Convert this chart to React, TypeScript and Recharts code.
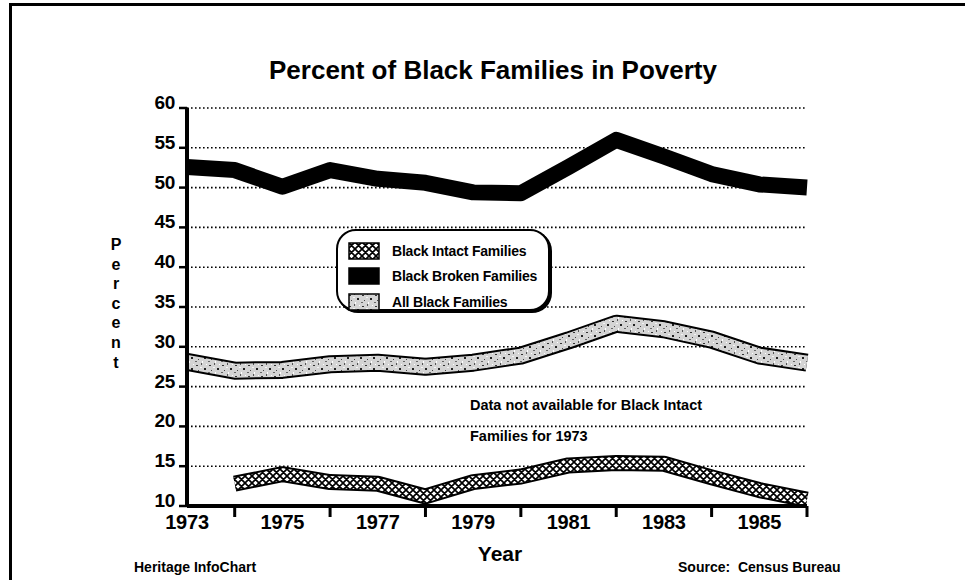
import React from 'react';
import { LineChart, Line, XAxis, YAxis, CartesianGrid, Legend } from 'recharts';

// data (percent of families in poverty)
const years = [1973, 1974, 1975, 1976, 1977, 1978, 1979, 1980, 1981, 1982, 1983, 1984, 1985, 1986];
const intactFamilies = [null, 12.8, 14.0, 13.0, 12.8, 11.2, 13.0, 13.7, 15.1, 15.4, 15.3, 13.6, 12.0, 10.8];
const brokenFamilies = [52.6, 52.2, 50.1, 52.2, 51.1, 50.6, 49.4, 49.3, 52.6, 56.0, 53.9, 51.7, 50.4, 50.0];
const allFamilies = [28.1, 27.0, 27.1, 27.8, 28.0, 27.5, 28.0, 28.9, 30.8, 32.9, 32.2, 30.9, 28.9, 28.0];
const yTicks = [10, 15, 20, 25, 30, 35, 40, 45, 50, 55, 60];
const labeledYears = [1973, 1975, 1977, 1979, 1981, 1983, 1985];
const seriesNames = ['Black Intact Families', 'Black Broken Families', 'All Black Families'];

const chartData = years.map((year, i) => ({
  year,
  intact: intactFamilies[i],
  broken: brokenFamilies[i],
  all: allFamilies[i],
}));

const FONT = '"Liberation Sans", Arial, Helvetica, sans-serif';

const XTick = (props: any) => {
  const { x, y, payload } = props;
  const v = payload.value;
  if (labeledYears.includes(v)) {
    return (
      <text x={x} y={y + 23} textAnchor="middle" fontFamily={FONT} fontWeight="bold" fontSize={20} letterSpacing={-0.2} fill="#000">
        {v}
      </text>
    );
  }
  return <line x1={x} y1={y} x2={x} y2={y + 11} stroke="#000" strokeWidth={3} />;
};

const YTick = (props: any) => {
  const { x, y, payload } = props;
  return (
    <g>
      <line x1={x - 8} y1={y} x2={x} y2={y} stroke="#000" strokeWidth={2.5} />
      <text x={x - 12} y={y + 1} textAnchor="end" fontFamily={FONT} fontWeight="bold" fontSize={19} letterSpacing={-0.3} fill="#000">
        {payload.value}
      </text>
    </g>
  );
};

const swatchFill = ['url(#crosshatch)', '#000', 'url(#speckle)'];

const LegendBox = () => (
  <div
    style={{
      width: 214,
      height: 82,
      border: '2.5px solid #000',
      borderRadius: 20,
      boxShadow: '2px 2px 0 #000',
      background: '#fff',
      boxSizing: 'border-box',
      padding: '7px 0 0 10px',
      fontFamily: FONT,
      fontWeight: 'bold',
      fontSize: 14,
      letterSpacing: -0.2,
      overflow: 'visible',
      whiteSpace: 'nowrap',
    }}
  >
    {seriesNames.map((name, i) => (
      <div key={name} style={{ display: 'flex', alignItems: 'center', height: 25.5 }}>
        <svg width={32} height={18} style={{ marginRight: 12 }}>
          <rect x={1} y={1} width={30} height={16} fill={swatchFill[i]} stroke="#000" strokeWidth={1.5} />
        </svg>
        <span>{name}</span>
      </div>
    ))}
  </div>
);

export default function App() {
  const percent = ['P', 'e', 'r', 'c', 'e', 'n', 't'];
  return (
    <div style={{ position: 'absolute', left: 0, top: 0, width: 965, height: 580, background: '#fff', overflow: 'hidden' }}>
      {/* frame */}
      <div style={{ position: 'absolute', left: 9, top: 3, width: 970, height: 590, borderLeft: '3px solid #000', borderTop: '3px solid #000' }} />

      <LineChart width={965} height={580} data={chartData} margin={{ top: 108, right: 158, bottom: 44, left: 127 }}>
        <defs>
          <pattern id="crosshatch" patternUnits="userSpaceOnUse" width={7} height={7}>
            <rect width={7} height={7} fill="#fff" />
            <path d="M0,0 L7,7 M7,0 L0,7 M-1,6 L1,8 M6,-1 L8,1 M6,8 L8,6 M-1,1 L1,-1" stroke="#000" strokeWidth={1.7} />
          </pattern>
          <pattern id="speckle" patternUnits="userSpaceOnUse" width={13} height={11}>
            <rect width={13} height={11} fill="#d4d4d4" />
            <rect x={1} y={2} width={2} height={1} fill="#333" />
            <rect x={6} y={0} width={1} height={2} fill="#555" />
            <rect x={9} y={5} width={2} height={2} fill="#222" />
            <rect x={3} y={7} width={1} height={1} fill="#444" />
            <rect x={11} y={1} width={1} height={1} fill="#fff" />
            <rect x={5} y={4} width={2} height={1} fill="#f4f4f4" />
            <rect x={0} y={9} width={2} height={1} fill="#666" />
            <rect x={7} y={9} width={1} height={2} fill="#fff" />
          </pattern>
        </defs>
        <CartesianGrid vertical={false} stroke="#000" strokeWidth={1.6} strokeDasharray="1.6 2.4" />
        <XAxis
          dataKey="year"
          type="number"
          domain={[1973, 1986]}
          ticks={years}
          interval={0}
          tick={<XTick />}
          tickLine={false}
          tickSize={0}
          tickMargin={0}
          height={30}
          axisLine={{ stroke: '#000', strokeWidth: 4 }}
        />
        <YAxis
          domain={[10, 60]}
          ticks={yTicks}
          interval={0}
          tick={<YTick />}
          tickLine={false}
          tickSize={0}
          tickMargin={0}
          width={60}
          axisLine={{ stroke: '#000', strokeWidth: 4 }}
        />
        <Legend
          layout="vertical"
          align="center"
          verticalAlign="middle"
          content={<LegendBox />}
          wrapperStyle={{ position: 'absolute', left: 336, top: 229, width: 214, height: 82 }}
        />
        {/* all black families: outlined speckled band */}
        <Line dataKey="all" stroke="#000" strokeWidth={18} strokeLinejoin="round" strokeLinecap="butt" dot={false} activeDot={false} legendType="none" isAnimationActive={false} />
        <Line dataKey="all" stroke="url(#speckle)" strokeWidth={14} strokeLinejoin="round" strokeLinecap="butt" dot={false} activeDot={false} legendType="none" isAnimationActive={false} />
        {/* intact families: outlined crosshatched band */}
        <Line dataKey="intact" stroke="#000" strokeWidth={16} strokeLinejoin="round" strokeLinecap="butt" dot={false} activeDot={false} legendType="none" isAnimationActive={false} />
        <Line dataKey="intact" stroke="url(#crosshatch)" strokeWidth={12} strokeLinejoin="round" strokeLinecap="butt" dot={false} activeDot={false} legendType="none" isAnimationActive={false} />
        {/* broken families: solid black band */}
        <Line dataKey="broken" stroke="#000" strokeWidth={16} strokeLinejoin="round" strokeLinecap="butt" dot={false} activeDot={false} legendType="none" isAnimationActive={false} />
      </LineChart>

      <svg width={965} height={580} style={{ position: 'absolute', left: 0, top: 0, pointerEvents: 'none' }}>
        <g fontFamily={FONT} fontWeight="bold" fill="#000">
          <text x={493} y={79} fontSize={26} textAnchor="middle">
            Percent of Black Families in Poverty
          </text>
          {percent.map((ch, i) => (
            <text key={i} x={116} y={250 + i * 19.6} fontSize={16} textAnchor="middle">
              {ch}
            </text>
          ))}
          <text x={500} y={561} fontSize={21} textAnchor="middle">Year</text>
          <text x={134} y={572} fontSize={14}>Heritage InfoChart</text>
          <text x={678} y={572} fontSize={14} xmlSpace="preserve">Source:  Census Bureau</text>
          <text x={470} y={410} fontSize={14.5}>Data not available for Black Intact</text>
          <text x={470} y={441} fontSize={14.5}>Families for 1973</text>
        </g>
      </svg>
    </div>
  );
}
